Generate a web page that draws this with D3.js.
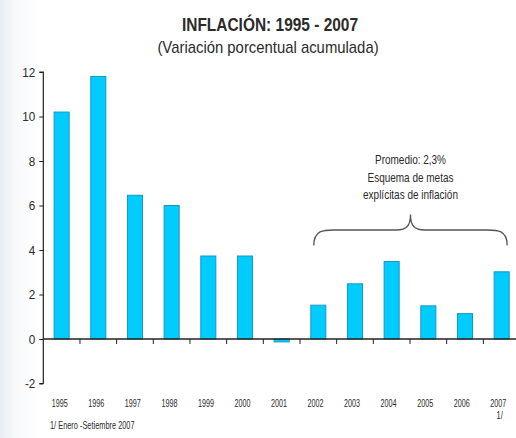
<!DOCTYPE html>
<html><head><meta charset="utf-8">
<script src="https://cdn.jsdelivr.net/npm/d3@7"></script>
<style>
html,body{margin:0;padding:0;background:#fff;}
svg{display:block;}
text{font-family:"Liberation Sans",Arial,sans-serif;fill:#2b2b2b;}
</style></head>
<body>
<svg id="c" width="516" height="438"></svg>
<script>
const years = ["1995","1996","1997","1998","1999","2000","2001","2002","2003","2004","2005","2006","2007"];
const inflation = [10.2, 11.8, 6.46, 6.0, 3.73, 3.73, -0.13, 1.52, 2.48, 3.48, 1.49, 1.14, 3.02];
const yTicks = [-2, 0, 2, 4, 6, 8, 10, 12];
const title = "INFLACIÓN: 1995 -  2007";
const subtitle = "(Variación porcentual acumulada)";
const noteLines = ["Promedio: 2,3%", "Esquema de metas", "explícitas de inflación"];
const footnote = "1/ Enero -Setiembre 2007";
const braceFrom = "2002", braceTo = "2007";

const svg = d3.select("#c");
const defs = svg.append("defs");
const g0 = defs.append("linearGradient").attr("id","bg").attr("x1","0").attr("x2","1");
g0.append("stop").attr("offset","0").attr("stop-color","#e9eef3");
g0.append("stop").attr("offset","0.03").attr("stop-color","#f7f9fb");
g0.append("stop").attr("offset","0.08").attr("stop-color","#ffffff");
svg.append("rect").attr("width",516).attr("height",438).attr("fill","url(#bg)");

const x = d3.scaleBand().domain(years).range([43.3, 520]).paddingInner(0.59).paddingOuter(0.295);
const xLab = d3.scaleBand().domain(years).range([41.5, 516.5]);
const y = d3.scaleLinear().domain([-2, 12]).range([383.5, 72]);

// condensed text helper
function cText(parent, tx, ty, str, size, sx, opts) {
  const gg = parent.append("g").attr("transform", `translate(${tx},${ty}) scale(${sx},1)`);
  const t = gg.append("text").attr("text-anchor", (opts && opts.anchor) || "middle")
    .style("font-size", size + "px").text(str);
  if (opts && opts.bold) t.style("font-weight","bold");
  return t;
}

// title
cText(svg, 270, 31, title, 18, 0.86, {bold:true});
cText(svg, 268, 53, subtitle, 16, 0.93);

// bars
svg.append("g").selectAll("rect").data(years).join("rect")
  .attr("x", d => x(d))
  .attr("width", x.bandwidth())
  .attr("y", (d,i) => y(Math.max(0, inflation[i])))
  .attr("height", (d,i) => Math.abs(y(inflation[i]) - y(0)))
  .attr("fill","#00ccff").attr("stroke","#1597c0").attr("stroke-width",1);

// y axis
const yAxis = d3.axisLeft(y).tickValues(yTicks).tickSize(4).tickPadding(4).tickFormat(d => String(d));
const ya = svg.append("g").attr("transform","translate(43.3,0)").call(yAxis);
ya.select(".domain").attr("stroke","#222").attr("stroke-width",1.2).attr("d","M-4,72H0V383.5H-4");
ya.selectAll(".tick line").attr("stroke","#222");
ya.selectAll(".tick text").style("font-size","13px").attr("fill","#2b2b2b")
  .style("font-family",'"Liberation Sans",Arial,sans-serif')
  .attr("transform","scale(0.9,1)").attr("x", -8/0.9);

// x axis at zero
const xa = svg.append("g").attr("transform",`translate(0,${y(0)})`);
xa.append("line").attr("x1",43.3).attr("x2",516).attr("stroke","#222").attr("stroke-width",1.3);
xa.selectAll("line.t").data(years.slice(1)).join("line").attr("class","t")
  .attr("x1", d => x(d) - x.step()*0.295).attr("x2", d => x(d) - x.step()*0.295)
  .attr("y1",0).attr("y2",5).attr("stroke","#222");

// x labels
const xl = svg.append("g");
years.forEach(d => cText(xl, xLab(d) + xLab.bandwidth()/2, 407, d, 10, 0.72));
cText(svg, xLab("2007") + xLab.bandwidth()/2 + 1.5, 418.5, "1/", 10, 0.75);
cText(svg, 50, 429, footnote, 10, 0.74, {anchor:"start"});

// brace
const bx1 = x(braceFrom) + 3, bx2 = x(braceTo) + x.bandwidth() - 2;
const bm = (bx1 + bx2)/2, by = y(4.2), btop = y(5.6);
const bh = by - y(4.9);
const p = d3.path();
p.moveTo(bx1, by);
p.bezierCurveTo(bx1, by - bh, bx1 + 10, by - bh, bx1 + 20, by - bh);
p.lineTo(bm - 14, by - bh);
p.bezierCurveTo(bm - 4, by - bh, bm, by - bh - 4, bm, btop);
p.moveTo(bx2, by);
p.bezierCurveTo(bx2, by - bh, bx2 - 10, by - bh, bx2 - 20, by - bh);
p.lineTo(bm + 14, by - bh);
p.bezierCurveTo(bm + 4, by - bh, bm, by - bh - 4, bm, btop);
svg.append("path").attr("d", p.toString()).attr("fill","none").attr("stroke","#555").attr("stroke-width",1.3);

const nl = svg.append("g");
noteLines.forEach((d,i) => cText(nl, bm, 164 + i*17.5, d, 12.5, 0.8));
</script>
</body></html>
